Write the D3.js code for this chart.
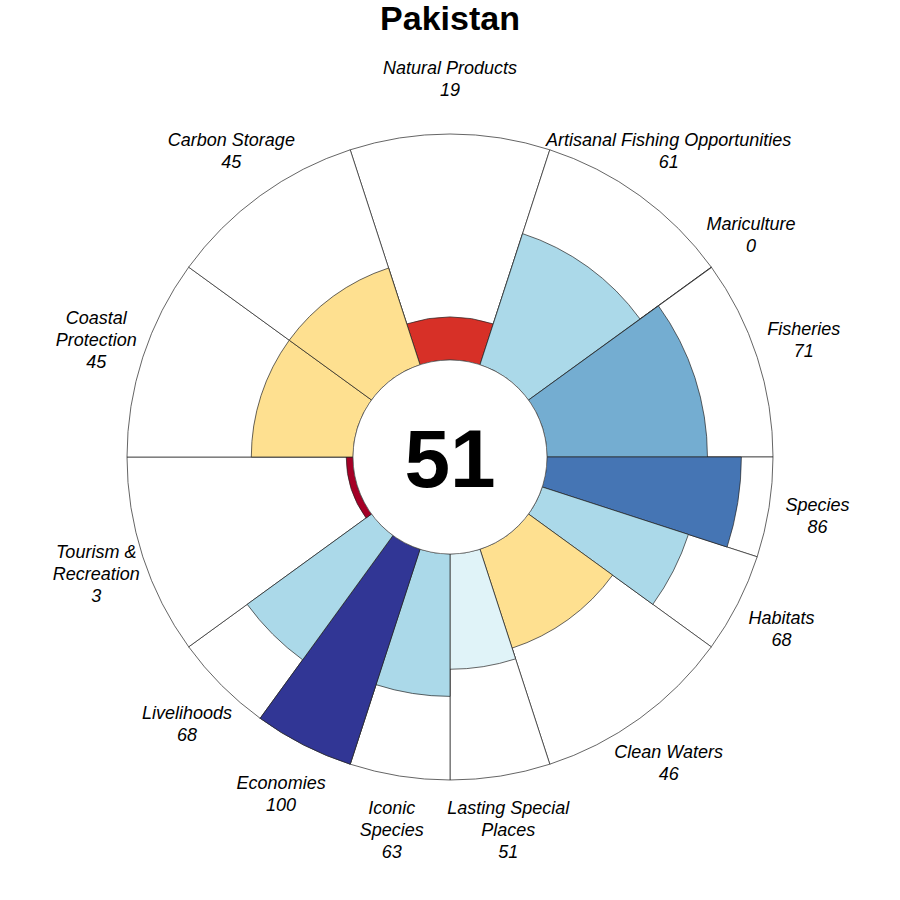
<!DOCTYPE html>
<html><head><meta charset="utf-8">
<script src="https://cdn.jsdelivr.net/npm/d3@7"></script>
<style>body{margin:0;background:#fff;} text{font-family:"Liberation Sans",Arial,sans-serif;}</style>
</head><body>
<svg id="c" width="900" height="900"></svg>
<script>
const title = "Pakistan";
const overallScore = 51;
const goals = ["Natural Products","Artisanal Fishing Opportunities","Mariculture","Fisheries","Species","Habitats","Clean Waters","Lasting Special Places","Iconic Species","Economies","Livelihoods","Tourism & Recreation","Coastal Protection","Carbon Storage"];
const labelLines = [["Natural Products"],["Artisanal Fishing Opportunities"],["Mariculture"],["Fisheries"],["Species"],["Habitats"],["Clean Waters"],["Lasting Special","Places"],["Iconic","Species"],["Economies"],["Livelihoods"],["Tourism &","Recreation"],["Coastal","Protection"],["Carbon Storage"]];
const scores = [19,61,0,71,86,68,46,51,63,100,68,3,45,45];
const weights = [1,1,0.002,0.998,0.5,0.5,1,0.5,0.5,0.5,0.5,1,1,1];
const palette = ["#a50026","#d73027","#f46d43","#fdae61","#fee090","#e0f3f8","#abd9e9","#74add1","#4575b4","#313695"];

const svg = d3.select("#c");
const cx = 450, cy = 457, r0 = 97, r1 = 323, rLabX = 372, rLabY = 378;
const g = svg.append("g").attr("transform", `translate(${cx},${cy})`);
const rScale = d3.scaleLinear().domain([0,100]).range([r0,r1]);
const color = d3.scaleQuantize().domain([0,100]).range(palette);
const data = goals.map((name,i)=>({name, lines:labelLines[i], score:scores[i], w:weights[i]}));
const start = -18*Math.PI/180;
const pie = d3.pie().sort(null).value(d=>d.w).startAngle(start).endAngle(start+2*Math.PI);
const arcs = pie(data);

// full petals
g.selectAll("path.full").data(arcs).join("path").attr("class","full")
  .attr("d", d3.arc().innerRadius(r0).outerRadius(r1))
  .attr("fill","#fff").attr("stroke","#222").attr("stroke-width",0.7);

// score petals
g.selectAll("path.score").data(arcs).join("path").attr("class","score")
  .attr("d", d=>d3.arc().innerRadius(r0).outerRadius(rScale(d.data.score))(d))
  .attr("fill", d=>color(d.data.score)).attr("stroke","#222").attr("stroke-width",0.7);

// inner circle
g.append("circle").attr("r", r0).attr("fill","#fff").attr("stroke","#555").attr("stroke-width",0.7);
g.append("text").attr("x",0).attr("y",30).attr("text-anchor","middle")
  .attr("font-size",82).attr("font-weight","bold").text(overallScore);

// labels
const lh = 22;
arcs.forEach(a=>{
  const ang = (a.startAngle+a.endAngle)/2;
  const x = rLabX*Math.sin(ang), y = -rLabY*Math.cos(ang);
  const lines = a.data.lines.concat([String(a.data.score)]);
  const t = g.append("text").attr("text-anchor","middle").attr("font-size",18).attr("font-style","italic");
  const y0 = y - (lines.length-1)*lh/2 + 6;
  lines.forEach((l,k)=>t.append("tspan").attr("x",x).attr("y",y0+k*lh).text(l));
});

svg.append("text").attr("x",450).attr("y",30).attr("text-anchor","middle")
  .attr("font-size",34).attr("font-weight","bold").text(title);
</script>
</body></html>
